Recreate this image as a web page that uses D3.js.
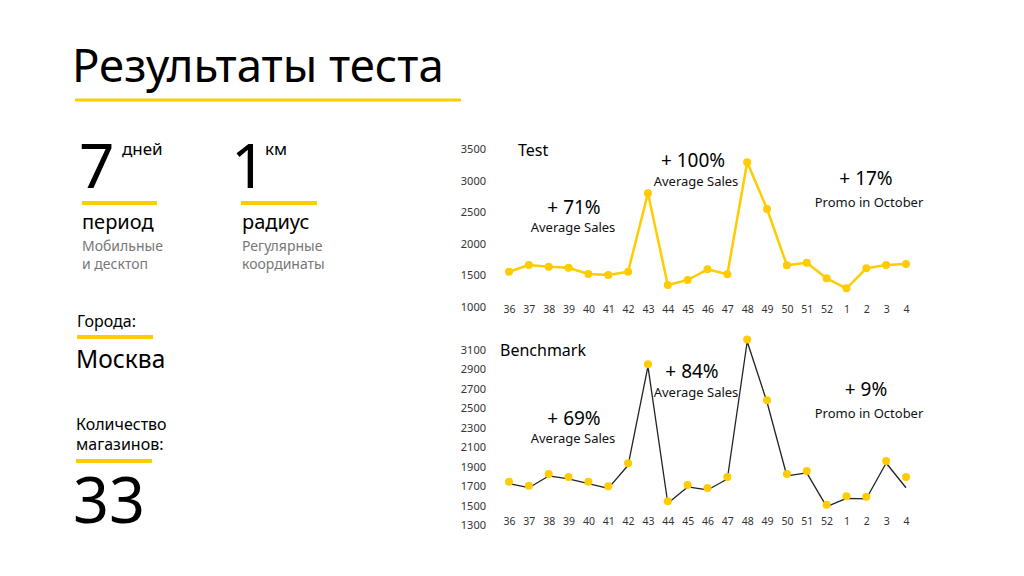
<!DOCTYPE html>
<html><head><meta charset="utf-8">
<script src="https://cdn.jsdelivr.net/npm/d3@7"></script>
<style>
body{margin:0;background:#fff;}
svg{display:block;font-family:"Noto Sans",sans-serif;}
</style></head>
<body><svg id="c" width="1024" height="576"></svg>
<script>
const weeks = ["36","37","38","39","40","41","42","43","44","45","46","47","48","49","50","51","52","1","2","3","4"];
const testValues = [1555,1661,1634,1618,1518,1502,1555,2798,1344,1423,1593,1514,3289,2549,1656,1698,1450,1292,1609,1661,1677];
const benchDots  = [1745,1704,1825,1794,1745,1698,1935,2953,1544,1712,1681,1794,3208,2583,1825,1856,1509,1595,1590,1958,1794];
const benchLine  = [1745,1704,1825,1794,1745,1698,1935,2953,1544,1712,1681,1794,3208,2583,1825,1856,1509,1595,1590,1958,1704];
const testTicks  = [1000,1500,2000,2500,3000,3500];
const benchTicks = [1300,1500,1700,1900,2100,2300,2500,2700,2900,3100];

const Y = "#fecc00";
const svg = d3.select("#c");

// Title
svg.append("text").attr("x",72).attr("y",82).attr("font-size",45.5).attr("fill","#000").text("Результаты теста");
svg.append("rect").attr("x",75).attr("y",98.5).attr("width",386).attr("height",3).attr("fill",Y);

// Left stats
function txt(x,y,s,t,fill,w){svg.append("text").attr("x",x).attr("y",y).attr("font-size",s).attr("fill",fill||"#000").attr("font-weight",w||400).text(t);}
function bar(x,y,w){svg.append("rect").attr("x",x).attr("y",y).attr("width",w).attr("height",4).attr("fill",Y);}
txt(79,188,62,"7"); txt(122,155,17,"дней");
bar(82,201,75);
txt(82,229,20,"период");
txt(82,251,14,"Мобильные","#777"); txt(82,269,14,"и десктоп","#777");
txt(231,188,62,"1"); txt(265,155,17,"км");
bar(241,201,76);
txt(242,229,20,"радиус");
txt(242,251,14,"Регулярные","#777"); txt(242,269,14,"координаты","#777");
txt(77,327,16,"Города:");
bar(77,335,76);
txt(76,368,24.5,"Москва");
txt(76,430,16,"Количество"); txt(76,450,16,"магазинов:");
bar(76,459,76);
txt(73,523,63,"33");

// Charts
const x = d3.scalePoint().domain(weeks).range([509,906]);

function chart(cfg){
  const y = d3.scaleLinear().domain(cfg.domain).range(cfg.range);
  const g = svg.append("g");
  const ya = g.append("g").attr("transform","translate(486,0)")
    .call(d3.axisLeft(y).tickValues(cfg.ticks).tickSize(0).tickPadding(0).tickFormat(d3.format("d")));
  ya.select(".domain").remove();
  ya.selectAll("text").attr("font-size",11).attr("fill","#333").attr("font-family","'Noto Sans',sans-serif");
  const xa = g.append("g").attr("transform",`translate(0,${cfg.xAxisY})`)
    .call(d3.axisBottom(x).tickSize(0).tickPadding(0));
  xa.select(".domain").remove();
  xa.selectAll("text").attr("font-size",10.5).attr("fill","#333").attr("font-family","'Noto Sans',sans-serif");
  const line = d3.line().x((d,i)=>x(weeks[i])).y(d=>y(d));
  g.append("path").datum(cfg.line).attr("d",line).attr("fill","none")
    .attr("stroke",cfg.lineColor).attr("stroke-width",cfg.lineW).attr("stroke-linejoin","round")
    .attr("transform",`translate(0,${cfg.lineOff})`);
  g.selectAll("circle.d").data(cfg.dots).join("circle").attr("cx",(d,i)=>x(weeks[i])).attr("cy",d=>y(d)).attr("r",4).attr("fill",Y);
  txt(cfg.titleX,cfg.titleY,16,cfg.title);
  cfg.ann.forEach(a=>{
    svg.append("text").attr("x",a.x).attr("y",a.y).attr("text-anchor","middle").attr("font-size",19).attr("fill","#000").text(a.big);
    svg.append("text").attr("x",a.x2).attr("y",a.y2).attr("text-anchor","middle").attr("font-size",13).attr("fill","#111").text(a.small);
  });
}

chart({domain:[1000,3500],range:[306.7,149],ticks:testTicks,xAxisY:306,line:testValues,dots:testValues,
  lineColor:Y,lineW:2.5,lineOff:0,title:"Test",titleX:518,titleY:156,
  ann:[{x:574,y:214,big:"+ 71%",x2:573,y2:232,small:"Average Sales"},
       {x:693,y:167,big:"+ 100%",x2:696,y2:186,small:"Average Sales"},
       {x:866,y:185,big:"+ 17%",x2:869,y2:207,small:"Promo in October"}]});

chart({domain:[1300,3100],range:[525,350],ticks:benchTicks,xAxisY:518,line:benchLine,dots:benchDots,
  lineColor:"#222",lineW:1.3,lineOff:2,title:"Benchmark",titleX:500,titleY:356,
  ann:[{x:574,y:425,big:"+ 69%",x2:573,y2:443,small:"Average Sales"},
       {x:692,y:378,big:"+ 84%",x2:696,y2:397,small:"Average Sales"},
       {x:866,y:396,big:"+ 9%",x2:869,y2:418,small:"Promo in October"}]});
</script></body></html>
